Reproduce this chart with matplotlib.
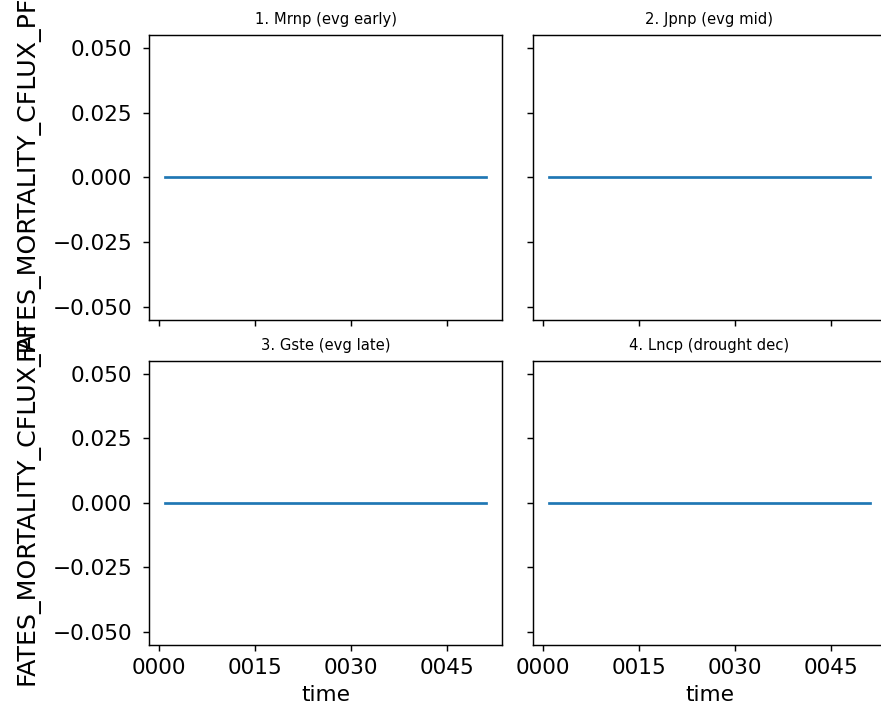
import matplotlib
matplotlib.use("Agg")
import matplotlib.pyplot as plt

# ---- data ----
panel_titles = ["1. Mrnp (evg early)", "2. Jpnp (evg mid)",
                "3. Gste (evg late)", "4. Lncp (drought dec)"]
time_years = list(range(1, 52))
mortality_cflux = {
    "1. Mrnp (evg early)": [0.0] * len(time_years),
    "2. Jpnp (evg mid)": [0.0] * len(time_years),
    "3. Gste (evg late)": [0.0] * len(time_years),
    "4. Lncp (drought dec)": [0.0] * len(time_years),
}
x_tick_values = [0, 15, 30, 45]
x_tick_labels = ["0000", "0015", "0030", "0045"]
y_tick_values = [-0.05, -0.025, 0.0, 0.025, 0.05]
y_tick_labels = ["\u22120.050", "\u22120.025", "0.000", "0.025", "0.050"]
y_label = "FATES_MORTALITY_CFLUX_PF"
x_label = "time"

DPI = 130
fig, axes = plt.subplots(2, 2, sharex=True, sharey=True,
                         figsize=(881 / DPI, 711 / DPI), dpi=DPI)
fig.subplots_adjust(left=0.1695, right=1.0053, top=0.9504, bottom=0.0928,
                    wspace=0.0897, hspace=0.145)

for ax, title in zip(axes.flat, panel_titles):
    ax.plot(time_years, mortality_cflux[title], color="C0")
    ax.set_title(title, fontsize=8.2)
    ax.tick_params(labelsize=12)
    ax.tick_params(axis="y", pad=6)

axes[0, 0].set_yticks(y_tick_values)
axes[0, 0].set_yticklabels(y_tick_labels)
axes[1, 0].set_yticks(y_tick_values)
axes[1, 0].set_yticklabels(y_tick_labels)
axes[0, 0].set_ylim(-0.055, 0.055)

for ax in axes[:, 0]:
    ax.set_ylabel(y_label, fontsize=14, labelpad=7)
for ax in axes[1, :]:
    ax.set_xlabel(x_label, fontsize=12)

axes[1, 0].set_xticks(x_tick_values)
axes[1, 0].set_xticklabels(x_tick_labels)
axes[1, 1].set_xticks(x_tick_values)
axes[1, 1].set_xticklabels(x_tick_labels)

fig.savefig("out.png", dpi=DPI)
